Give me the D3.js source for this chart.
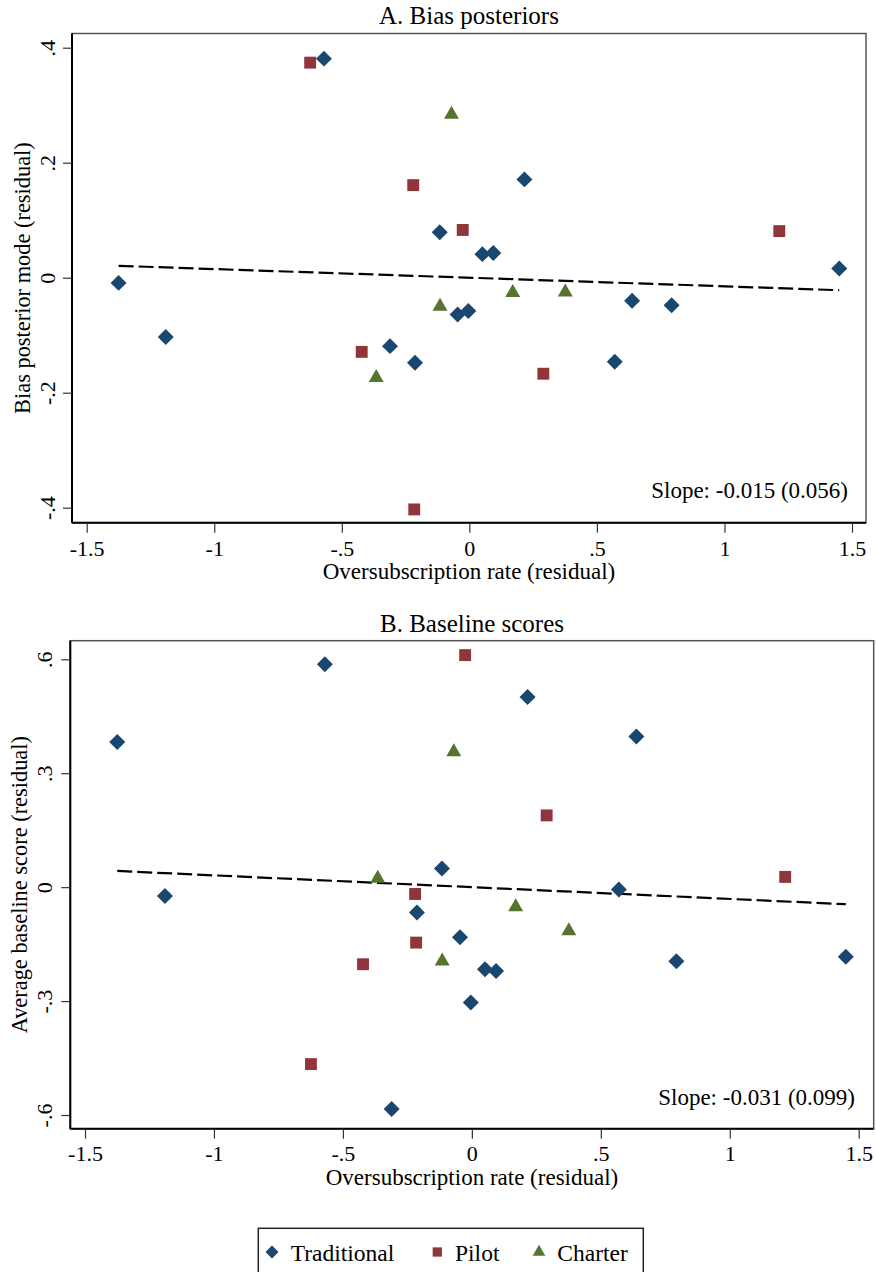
<!DOCTYPE html>
<html lang="en">
<head>
    <meta charset="UTF-8">
    <title>Bias posteriors and baseline scores</title>
    <script src="https://d3js.org/d3.v7.min.js"></script>
    <style>
        html, body { margin: 0; background: #fff; }
        svg text { font-family: "Liberation Serif", "Times New Roman", serif; fill: #000; }
    </style>
</head>
<body>
<div id="chart"></div>
<script>
    // oversubscription rate residuals (same schools in both panels)
    var tradX = [-1.375, -1.190, -0.570, -0.311, -0.213, -0.116, -0.046, -0.004, 0.051, 0.094, 0.216, 0.570, 0.638, 0.793, 1.450];
    var pilotX = [-0.624, -0.422, -0.220, -0.216, -0.026, 0.290, 1.215];
    var charterX = [-0.365, -0.115, -0.070, 0.170, 0.376];

    // panel A: bias posterior mode (residual)
    var tradBias = [-0.009, -0.103, 0.381, -0.119, -0.148, 0.079, -0.064, -0.058, 0.041, 0.043, 0.171, -0.146, -0.040, -0.048, 0.016];
    var pilotBias = [0.374, -0.129, 0.161, -0.403, 0.083, -0.167, 0.081];
    var charterBias = [-0.174, -0.050, 0.284, -0.026, -0.025];

    // panel B: average baseline score (residual)
    var tradBase = [0.382, -0.023, 0.587, -0.584, -0.067, 0.049, -0.132, -0.304, -0.216, -0.221, 0.501, -0.006, 0.397, -0.195, -0.183];
    var pilotBase = [-0.466, -0.203, -0.018, -0.146, 0.611, 0.189, 0.027];
    var charterBase = [0.023, -0.195, 0.356, -0.052, -0.115];

    var xTicks = [-1.5, -1, -0.5, 0, 0.5, 1, 1.5];
    var biasTicks = [-0.4, -0.2, 0, 0.2, 0.4];
    var baseTicks = [-0.6, -0.3, 0, 0.3, 0.6];

    var groups = ["Traditional", "Pilot", "Charter"];
    var colors = { Traditional: "#1a476f", Pilot: "#90353b", Charter: "#55752f" };
    var shapes = { Traditional: d3.symbolDiamond2, Pilot: d3.symbolSquare2, Charter: d3.symbolTriangle2 };

    // stata style: .4 instead of 0.4
    function fmt(v) {
        if (v === 0) return "0";
        return String(v).replace(/^(-?)0\./, "$1.");
    }

    var width = 876, height = 1272;
    var svg = d3.select("#chart").append("svg")
        .attr("width", width)
        .attr("height", height);

    svg.append("rect").attr("width", width).attr("height", height).attr("fill", "#fff");

    function panel(opt) {
        var x = d3.scaleLinear().domain([-1.5, 1.5]).range(opt.xRange);
        var y = d3.scaleLinear().domain(opt.yDomain).range(opt.yRange);
        var f = opt.frame;
        var g = svg.append("g");

        // title
        g.append("text")
            .attr("x", (f.left + f.right) / 2)
            .attr("y", opt.titleY)
            .attr("text-anchor", "middle")
            .style("font-size", "25px")
            .text(opt.title);

        // frame
        g.append("rect")
            .attr("x", f.left).attr("y", f.top)
            .attr("width", f.right - f.left).attr("height", f.bottom - f.top)
            .attr("fill", "none").attr("stroke", "#555").attr("stroke-width", 1.5);
        g.append("line")
            .attr("x1", f.left).attr("x2", f.left).attr("y1", f.top).attr("y2", f.bottom)
            .attr("stroke", "#000").attr("stroke-width", 2);
        g.append("line")
            .attr("x1", f.left).attr("x2", f.right).attr("y1", f.bottom).attr("y2", f.bottom)
            .attr("stroke", "#000").attr("stroke-width", 2);

        // x axis
        var xa = g.append("g")
            .attr("transform", "translate(0," + f.bottom + ")")
            .call(d3.axisBottom(x).tickValues(xTicks).tickFormat(fmt).tickSize(10).tickPadding(opt.tickPad));
        xa.select(".domain").remove();
        xa.selectAll(".tick line").attr("stroke", "#333").attr("stroke-width", 1.2);
        xa.selectAll(".tick text")
            .style("font-size", "22px")
            .attr("font-family", null);

        // y axis, rotated labels
        var ya = g.append("g")
            .attr("transform", "translate(" + f.left + ",0)")
            .call(d3.axisLeft(y).tickValues(opt.yTicks).tickFormat(fmt).tickSize(9));
        ya.select(".domain").remove();
        ya.selectAll(".tick line").attr("stroke", "#333").attr("stroke-width", 1.2);
        ya.selectAll(".tick text").remove();
        ya.selectAll(".tick").append("text")
            .attr("transform", "translate(" + (opt.yLabelX - f.left) + ",0) rotate(-90)")
            .attr("text-anchor", "middle")
            .style("font-size", "22px")
            .text(function (d) { return fmt(d); });

        // axis titles
        g.append("text")
            .attr("x", (f.left + f.right) / 2)
            .attr("y", opt.xTitleY)
            .attr("text-anchor", "middle")
            .style("font-size", "23px")
            .text("Oversubscription rate (residual)");
        g.append("text")
            .attr("transform", "translate(" + opt.yTitleX + "," + ((f.top + f.bottom) / 2) + ") rotate(-90)")
            .attr("text-anchor", "middle")
            .style("font-size", "22.4px")
            .text(opt.yTitle);

        // fitted line (residuals, so it passes through the origin)
        var xr = d3.extent(tradX.concat(pilotX, charterX));
        g.append("line")
            .attr("x1", x(xr[0])).attr("y1", y(opt.slope * xr[0]))
            .attr("x2", x(xr[1])).attr("y2", y(opt.slope * xr[1]))
            .attr("stroke", "#000").attr("stroke-width", 2.2)
            .attr("stroke-dasharray", "15,5");

        // points
        var sizes = { Traditional: 163, Pilot: 180, Charter: 160 };
        groups.forEach(function (grp) {
            var pts = d3.zip(opt.xs[grp], opt.ys[grp]);
            g.selectAll(".pt-" + grp)
                .data(pts)
                .enter().append("path")
                .attr("class", "pt-" + grp)
                .attr("transform", function (d) { return "translate(" + x(d[0]) + "," + y(d[1]) + ")"; })
                .attr("d", d3.symbol().type(shapes[grp]).size(sizes[grp]))
                .attr("fill", colors[grp]);
        });

        // slope annotation
        g.append("text")
            .attr("x", opt.slopeX)
            .attr("y", opt.slopeY)
            .attr("text-anchor", "end")
            .style("font-size", "23px")
            .text(opt.slopeText);
    }

    var xs = { Traditional: tradX, Pilot: pilotX, Charter: charterX };

    panel({
        title: "A. Bias posteriors",
        titleY: 24,
        frame: { left: 72, right: 866, top: 33.5, bottom: 522.7 },
        xRange: [86.7, 852],
        yDomain: [-0.4, 0.4],
        yRange: [507.7, 47.7],
        yTicks: biasTicks,
        tickPad: 8,
        yLabelX: 55,
        yTitleX: 30,
        xTitleY: 579,
        yTitle: "Bias posterior mode (residual)",
        slope: -0.015,
        slopeText: "Slope: -0.015 (0.056)",
        slopeX: 848, slopeY: 498,
        xs: xs,
        ys: { Traditional: tradBias, Pilot: pilotBias, Charter: charterBias }
    });

    panel({
        title: "B. Baseline scores",
        titleY: 632,
        frame: { left: 70.3, right: 873.7, top: 640.7, bottom: 1128.7 },
        xRange: [85, 858.7],
        yDomain: [-0.6, 0.6],
        yRange: [1115, 659.3],
        yTicks: baseTicks,
        tickPad: 6.5,
        yLabelX: 52,
        yTitleX: 27,
        xTitleY: 1184.5,
        yTitle: "Average baseline score (residual)",
        slope: -0.031,
        slopeText: "Slope: -0.031 (0.099)",
        slopeX: 855, slopeY: 1105,
        xs: xs,
        ys: { Traditional: tradBase, Pilot: pilotBase, Charter: charterBase }
    });

    // legend
    var legend = svg.append("g");
    legend.append("rect")
        .attr("x", 258.3).attr("y", 1228.3)
        .attr("width", 643.3 - 258.3).attr("height", 60)
        .attr("fill", "#fff").attr("stroke", "#222").attr("stroke-width", 1.5);
    var legendPos = [
        { grp: "Traditional", mx: 272, tx: 290.7 },
        { grp: "Pilot", mx: 437.3, tx: 455 },
        { grp: "Charter", mx: 539, tx: 557.3 }
    ];
    var legendSizes = { Traditional: 108, Pilot: 110, Charter: 115 };
    legendPos.forEach(function (d) {
        legend.append("path")
            .attr("transform", "translate(" + d.mx + ",1252)")
            .attr("d", d3.symbol().type(shapes[d.grp]).size(legendSizes[d.grp]))
            .attr("fill", colors[d.grp]);
        legend.append("text")
            .attr("x", d.tx).attr("y", 1260.5)
            .style("font-size", "23.5px")
            .text(d.grp);
    });
</script>
</body>
</html>
